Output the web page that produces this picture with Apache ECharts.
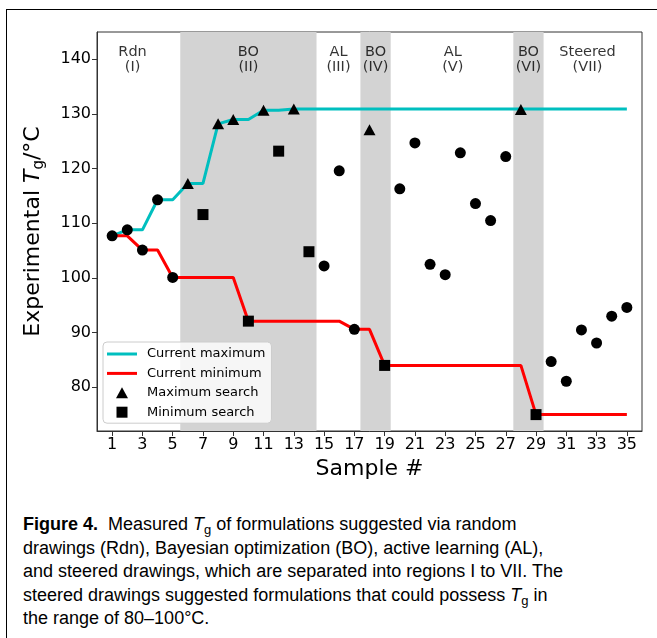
<!DOCTYPE html>
<html>
<head>
<meta charset="utf-8">
<script src="https://cdn.jsdelivr.net/npm/echarts@6/dist/echarts.min.js"></script>
<style>
    html, body { margin: 0; padding: 0; background: #fff; overflow: hidden; }
    #frame { position: absolute; left: 6px; top: 9px; width: 800px; height: 800px; border: 1.5px solid #000; }
    #chart { position: absolute; left: 0; top: 0; width: 657px; height: 500px; }
    #caption { position: absolute; left: 23px; top: 513px; font-family: "Liberation Sans", Arial, sans-serif;
               font-size: 18px; line-height: 23.5px; color: #000; white-space: nowrap; }
    #caption sub { font-size: 13px; vertical-align: -4px; line-height: 0; }
</style>
</head>
<body>
<div id="frame"></div>
<div id="chart"></div>
<div id="caption">
    <b>Figure 4.</b>&nbsp; Measured <i>T</i><sub>g</sub> of formulations suggested via random<br>
    drawings (Rdn), Bayesian optimization (BO), active learning (AL),<br>
    and steered drawings, which are separated into regions I to VII. The<br>
    steered drawings suggested formulations that could possess <i>T</i><sub>g</sub> in<br>
    the range of 80–100°C.
</div>
<script>
    // samples and measured Tg
    var sampleNo = [1, 2, 3, 4, 5, 6, 7, 8, 9, 10, 11, 12, 13, 14, 15, 16, 17, 18,
        19, 20, 21, 22, 23, 24, 25, 26, 27, 28, 29, 30, 31, 32, 33, 34, 35];
    var tgValue = [107.7, 108.8, 105.1, 114.3, 100.1, 117.3, 111.6, 128.2, 129.0, 92.1,
        130.7, 123.2, 130.9, 104.8, 102.2, 119.6, 90.6, 127.1, 84.0, 116.3,
        124.7, 102.5, 100.6, 122.9, 113.6, 110.5, 122.2, 130.8, 75.0, 84.7,
        81.1, 90.5, 88.1, 93.0, 94.6];
    // o = random / AL / steered, max = maximum search, min = minimum search
    var searchKind = ['o', 'o', 'o', 'o', 'o', 'max', 'min', 'max', 'max', 'min',
        'max', 'min', 'max', 'min', 'o', 'o', 'o', 'max', 'min', 'o',
        'o', 'o', 'o', 'o', 'o', 'o', 'o', 'max', 'min', 'o',
        'o', 'o', 'o', 'o', 'o'];
    var curMax = [107.7, 108.8, 108.8, 114.3, 114.3, 117.3, 117.3, 128.2, 129.0, 129.0,
        130.7, 130.7, 130.9, 130.9, 130.9, 130.9, 130.9, 130.9, 130.9, 130.9,
        130.9, 130.9, 130.9, 130.9, 130.9, 130.9, 130.9, 130.9, 130.9, 130.9,
        130.9, 130.9, 130.9, 130.9, 130.9];
    var curMin = [107.7, 107.7, 105.1, 105.1, 100.1, 100.1, 100.1, 100.1, 100.1, 92.1,
        92.1, 92.1, 92.1, 92.1, 92.1, 92.1, 90.6, 90.6, 84.0, 84.0,
        84.0, 84.0, 84.0, 84.0, 84.0, 84.0, 84.0, 84.0, 75.0, 75.0,
        75.0, 75.0, 75.0, 75.0, 75.0];

    // regions
    var shadeStart = [5.5, 17.4, 27.5];
    var shadeEnd = [14.5, 19.4, 29.5];
    var regionName = ['Rdn', 'BO', 'AL', 'BO', 'AL', 'BO', 'Steered'];
    var regionNum = ['(I)', '(II)', '(III)', '(IV)', '(V)', '(VI)', '(VII)'];
    var regionCenter = [2.35, 10, 15.95, 18.4, 23.5, 28.5, 32.4];
    var regionLabelY = 140.0;

    var xTicks = [1, 3, 5, 7, 9, 11, 13, 15, 17, 19, 21, 23, 25, 27, 29, 31, 33, 35];
    var yTicks = [80, 90, 100, 110, 120, 130, 140];

    function pick(kind) {
        var out = [];
        for (var i = 0; i < sampleNo.length; i++) {
            if (searchKind[i] === kind) out.push([sampleNo[i], tgValue[i]]);
        }
        return out;
    }
    function pairs(ys) {
        return sampleNo.map(function (x, i) { return [x, ys[i]]; });
    }

    var font = 'DejaVu Sans';
    var areas = shadeStart.map(function (s, i) { return [{ xAxis: s }, { xAxis: shadeEnd[i] }]; });

    var myChart = echarts.init(document.getElementById('chart'));
    var option = {
        animation: false,
        textStyle: { fontFamily: font },
        grid: { left: 97, top: 32, width: 545, height: 399, show: true, borderColor: '#333', borderWidth: 1, containLabel: false },
        legend: {
            orient: 'vertical',
            left: 103, top: 342,
            padding: [5, 6, 4, 4],
            itemWidth: 30, itemHeight: 11, itemGap: 5.4,
            symbolKeepAspect: true,
            backgroundColor: 'rgba(255,255,255,0.8)',
            borderColor: '#ccc', borderWidth: 1, borderRadius: 4,
            textStyle: { fontFamily: font, fontSize: 13, lineHeight: 14, color: '#000', padding: [0, 0, 0, 5] },
            data: [
                { name: 'Current maximum', icon: 'path://M0,0h30v3h-30z' },
                { name: 'Current minimum', icon: 'path://M0,0h30v3h-30z' },
                { name: 'Maximum search', icon: 'path://M6,0L12,11L0,11Z' },
                { name: 'Minimum search', icon: 'path://M0,0h11v11h-11z' }
            ]
        },
        xAxis: {
            type: 'value', min: 0, max: 36,
            name: 'Sample #', nameLocation: 'middle', nameGap: 27, nameMoveOverlap: false,
            nameTextStyle: { fontFamily: font, fontSize: 22, color: '#000', verticalAlign: 'top' },
            axisLine: { lineStyle: { color: '#333', width: 1 } },
            axisTick: { length: 5, lineStyle: { color: '#333' }, customValues: xTicks },
            axisLabel: { fontFamily: font, fontSize: 16, color: '#000', margin: 6, customValues: xTicks },
            splitLine: { show: false }
        },
        yAxis: {
            type: 'value', min: 72, max: 145,
            name: '{n|Experimental }{t|T}{s|g}{n|/°C}', nameLocation: 'middle', nameGap: 50, nameMoveOverlap: false,
            nameTextStyle: {
                fontFamily: font, fontSize: 22, color: '#000',
                rich: {
                    n: { fontFamily: font, fontSize: 22, color: '#000' },
                    t: { fontFamily: font, fontSize: 22, fontStyle: 'italic', color: '#000' },
                    s: { fontFamily: font, fontSize: 15, color: '#000', padding: [13, 0, 0, 0] }
                }
            },
            axisLine: { lineStyle: { color: '#333', width: 1 } },
            axisTick: { length: 5, lineStyle: { color: '#333' }, customValues: yTicks },
            axisLabel: { fontFamily: font, fontSize: 16, color: '#000', margin: 6, customValues: yTicks },
            splitLine: { show: false }
        },
        series: [
            {
                name: 'regions',
                type: 'scatter',
                z: 1,
                symbolSize: 0,
                silent: true,
                data: regionCenter.map(function (x, i) { return [x, regionLabelY, regionName[i] + '\n' + regionNum[i]]; }),
                label: {
                    show: true, position: 'inside', fontFamily: font, fontSize: 14.5, lineHeight: 15, color: '#000',
                    formatter: function (p) { return p.data[2]; }
                },
                markArea: {
                    silent: true,
                    itemStyle: { color: '#d3d3d3' },
                    data: areas
                }
            },
            {
                name: 'Current maximum',
                type: 'line', z: 3,
                data: pairs(curMax),
                symbol: 'none',
                color: '#00bfbf',
                lineStyle: { width: 3, color: '#00bfbf' }
            },
            {
                name: 'Current minimum',
                type: 'line', z: 3,
                data: pairs(curMin),
                symbol: 'none',
                color: '#ff0000',
                lineStyle: { width: 3, color: '#ff0000' }
            },
            {
                name: 'Other samples',
                type: 'scatter', z: 5,
                data: pick('o'),
                symbol: 'circle', symbolSize: 11,
                itemStyle: { color: '#000', opacity: 1 }
            },
            {
                name: 'Maximum search',
                type: 'scatter', z: 5,
                data: pick('max'),
                symbol: 'triangle', symbolSize: [12, 11],
                itemStyle: { color: '#000', opacity: 1 }
            },
            {
                name: 'Minimum search',
                type: 'scatter', z: 5,
                data: pick('min'),
                symbol: 'rect', symbolSize: 11,
                itemStyle: { color: '#000', opacity: 1 }
            }
        ]
    };
    myChart.setOption(option, true);
</script>
</body>
</html>
